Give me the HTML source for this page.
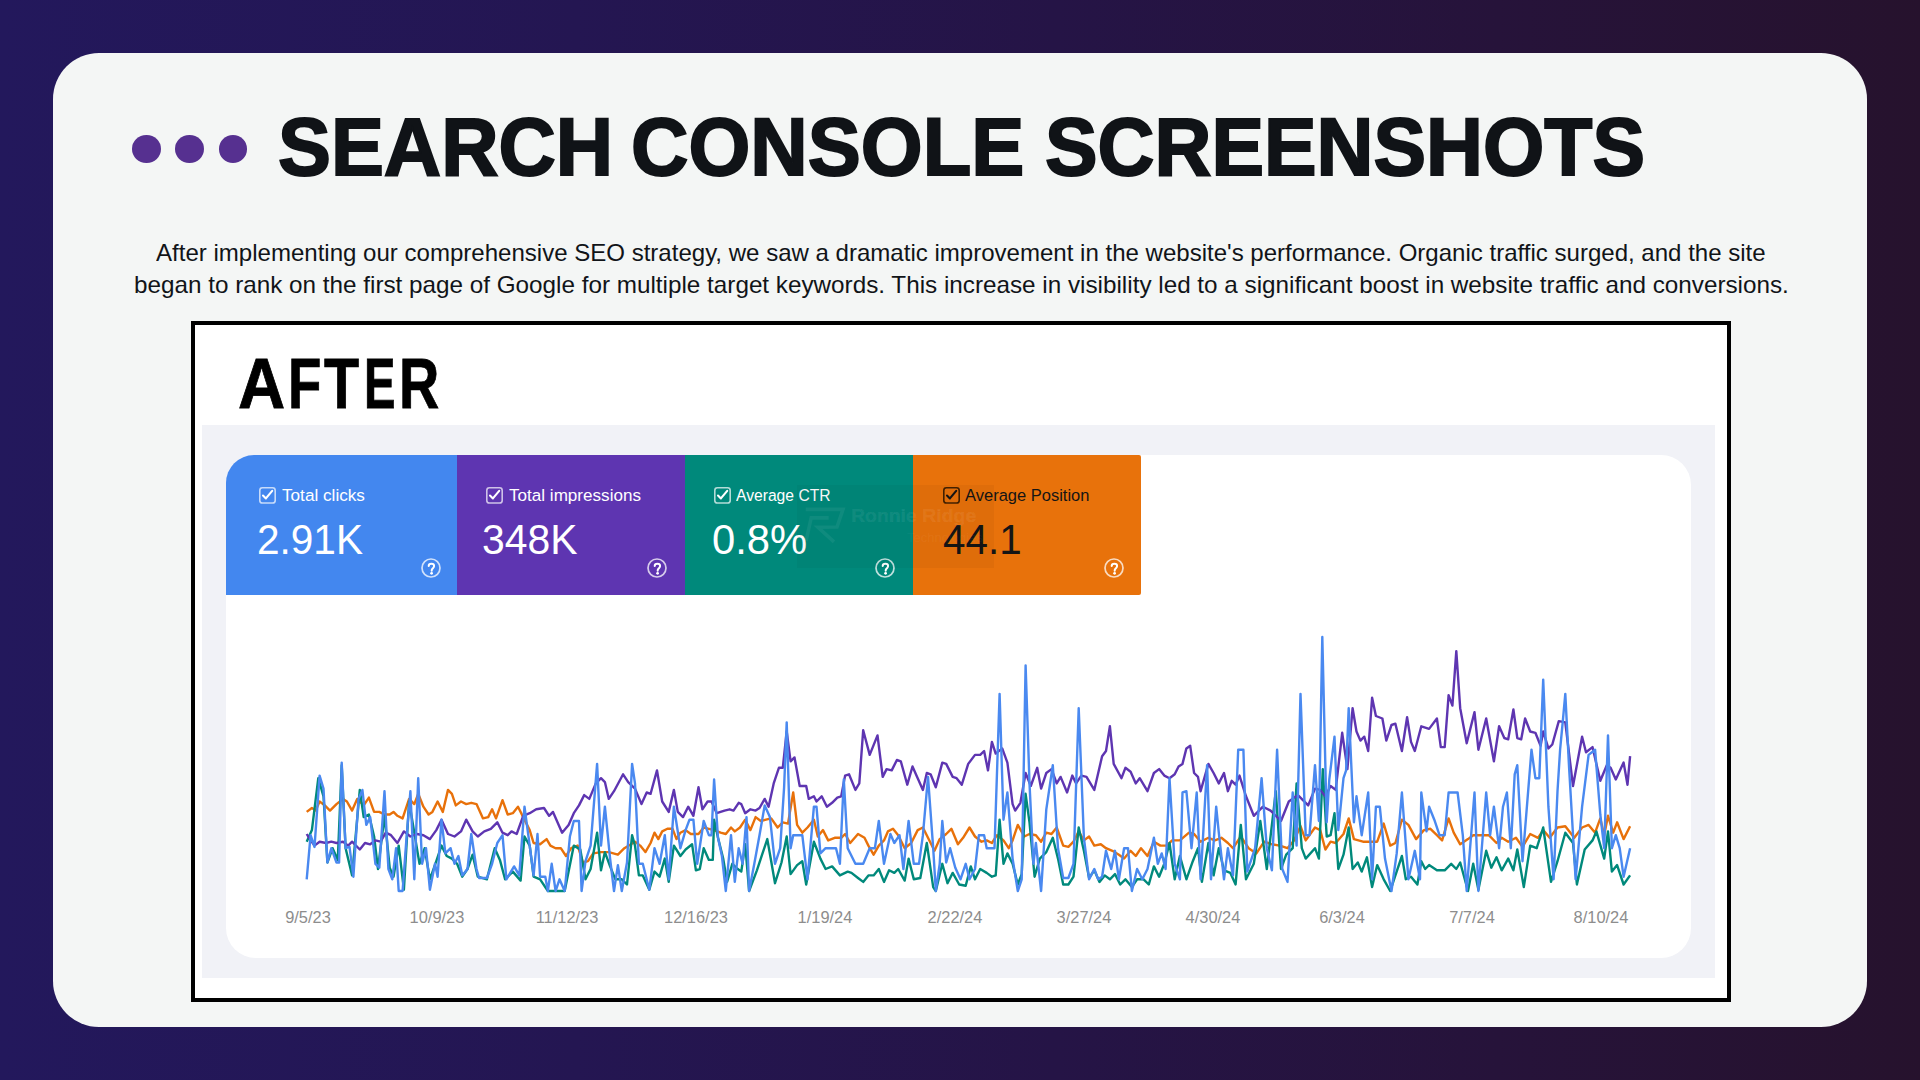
<!DOCTYPE html>
<html><head><meta charset="utf-8">
<style>
*{margin:0;padding:0;box-sizing:border-box}
html,body{width:1920px;height:1080px;overflow:hidden}
body{background:linear-gradient(90deg,#23185c 0%,#241652 30%,#251446 55%,#26133a 78%,#26122d 100%);font-family:"Liberation Sans",sans-serif;position:relative}
.a{position:absolute;white-space:nowrap;transform-origin:0 0}
.card{position:absolute;left:53px;top:53px;width:1814px;height:974px;background:#f4f6f5;border-radius:46px}
.dot{position:absolute;top:135px;width:28.6px;height:28px;border-radius:50%;background:#563090}
.tw{top:106.3px;font-size:82px;line-height:82px;font-weight:bold;color:#101317;-webkit-text-stroke:2px #101317}
.para{font-size:24px;line-height:30px;color:#111418}
.frame{position:absolute;left:191px;top:321px;width:1540px;height:681px;border:4px solid #000;background:#fff}
.after{top:348.3px;font-size:71px;line-height:71px;font-weight:bold;color:#000;-webkit-text-stroke:.8px #000}
.grey{position:absolute;left:202px;top:425px;width:1513px;height:553px;background:#f1f2f7}
.wcard{position:absolute;left:226px;top:454.5px;width:1465px;height:503.5px;background:#fff;border-radius:30px}
.m{position:absolute;top:454.5px;height:140.5px}
.lab{font-size:17.2px;line-height:20px;top:30.5px;color:#fff}
.val{font-size:43.2px;line-height:50px;top:59.7px;color:#fff}
.cbx{position:absolute;top:32.7px;width:17px;height:17px}
.q{position:absolute;top:103.5px;width:20px;height:20px}
.xl{top:908px;font-size:17px;line-height:20px;color:#8d8d8d}
</style></head><body>
<div class="card"></div>
<div class="dot" style="left:132px"></div>
<div class="dot" style="left:175px"></div>
<div class="dot" style="left:218.8px"></div>
<div class="a tw" style="left:278px;transform:scaleX(.9676)">SEARCH</div>
<div class="a tw" style="left:631.06px;transform:scaleX(.97)">CONSOLE</div>
<div class="a tw" style="left:1045.04px;transform:scaleX(.9613)">SCREENSHOTS</div>
<div class="a para" style="left:156.25px;top:237.5px;transform:scaleX(1.0016)">After implementing our comprehensive SEO strategy, we saw a dramatic improvement in the website's performance. Organic traffic surged, and the site</div>
<div class="a para" style="left:133.6px;top:270.3px;transform:scaleX(1.0107)">began to rank on the first page of Google for multiple target keywords. This increase in visibility led to a significant boost in website traffic and conversions.</div>
<div class="frame"></div>
<div class="a after" style="left:238.2px;transform:scaleX(0.92)">A</div>
<div class="a after" style="left:287.8px;transform:scaleX(0.77)">F</div>
<div class="a after" style="left:324px;transform:scaleX(0.81)">T</div>
<div class="a after" style="left:363.9px;transform:scaleX(0.665)">E</div>
<div class="a after" style="left:399.4px;transform:scaleX(0.785)">R</div>
<div class="grey"></div>
<div class="wcard"></div>
<div class="m" style="left:226px;width:231px;background:#4387ef;border-top-left-radius:28px;"><svg class="cbx" style="left:32.7px" viewBox="0 0 17 17"><rect x="0.8" y="0.8" width="15.4" height="15.2" rx="2.6" fill="none" stroke="rgba(255,255,255,.7)" stroke-width="1.6"/><polyline points="4,8.6 6.9,11.4 13.2,3.8" fill="none" stroke="#fff" stroke-width="2.1" stroke-linecap="round" stroke-linejoin="round"/></svg><div class="a lab" style="left:55.5px;color:#fff;transform:scaleX(0.998)">Total clicks</div><div class="a val" style="left:31.200000000000003px;color:#fff;transform:scaleX(0.939)">2.91K</div><svg class="q" style="left:194.8px" viewBox="0 0 20 20"><circle cx="10" cy="10" r="9" fill="none" stroke="rgba(255,255,255,.75)" stroke-width="1.7"/><path d="M7.7,8.0 C7.7,6.3 8.9,5.8 10.4,5.8 C12,5.8 13.1,6.8 13.1,8.1 C13.1,9.6 11.7,10.3 11.1,11.1 C10.8,11.5 10.7,11.9 10.7,12.7" fill="none" stroke="#fff" stroke-width="2" stroke-linecap="round"/><circle cx="10.6" cy="15.3" r="1.4" fill="#fff"/></svg></div>
<div class="m" style="left:457px;width:228px;background:#5e35b1;"><svg class="cbx" style="left:28.9px" viewBox="0 0 17 17"><rect x="0.8" y="0.8" width="15.4" height="15.2" rx="2.6" fill="none" stroke="rgba(255,255,255,.7)" stroke-width="1.6"/><polyline points="4,8.6 6.9,11.4 13.2,3.8" fill="none" stroke="#fff" stroke-width="2.1" stroke-linecap="round" stroke-linejoin="round"/></svg><div class="a lab" style="left:51.7px;color:#fff;transform:scaleX(0.994)">Total impressions</div><div class="a val" style="left:25.4px;color:#fff;transform:scaleX(0.946)">348K</div><svg class="q" style="left:189.9px" viewBox="0 0 20 20"><circle cx="10" cy="10" r="9" fill="none" stroke="rgba(255,255,255,.75)" stroke-width="1.7"/><path d="M7.7,8.0 C7.7,6.3 8.9,5.8 10.4,5.8 C12,5.8 13.1,6.8 13.1,8.1 C13.1,9.6 11.7,10.3 11.1,11.1 C10.8,11.5 10.7,11.9 10.7,12.7" fill="none" stroke="#fff" stroke-width="2" stroke-linecap="round"/><circle cx="10.6" cy="15.3" r="1.4" fill="#fff"/></svg></div>
<div class="m" style="left:685px;width:228px;background:#00897b;"><svg class="cbx" style="left:28.6px" viewBox="0 0 17 17"><rect x="0.8" y="0.8" width="15.4" height="15.2" rx="2.6" fill="none" stroke="rgba(255,255,255,.7)" stroke-width="1.6"/><polyline points="4,8.6 6.9,11.4 13.2,3.8" fill="none" stroke="#fff" stroke-width="2.1" stroke-linecap="round" stroke-linejoin="round"/></svg><div class="a lab" style="left:51.400000000000006px;color:#fff;transform:scaleX(0.911)">Average CTR</div><div class="a val" style="left:27.1px;color:#fff;transform:scaleX(0.967)">0.8%</div><svg class="q" style="left:189.8px" viewBox="0 0 20 20"><circle cx="10" cy="10" r="9" fill="none" stroke="rgba(255,255,255,.75)" stroke-width="1.7"/><path d="M7.7,8.0 C7.7,6.3 8.9,5.8 10.4,5.8 C12,5.8 13.1,6.8 13.1,8.1 C13.1,9.6 11.7,10.3 11.1,11.1 C10.8,11.5 10.7,11.9 10.7,12.7" fill="none" stroke="#fff" stroke-width="2" stroke-linecap="round"/><circle cx="10.6" cy="15.3" r="1.4" fill="#fff"/></svg></div>
<div class="m" style="left:913px;width:228px;background:#e8720b;border-radius:0 2px 2px 0;"><svg class="cbx" style="left:29.5px" viewBox="0 0 17 17"><rect x="0.8" y="0.8" width="15.4" height="15.2" rx="2.6" fill="none" stroke="rgba(40,20,0,.85)" stroke-width="1.6"/><polyline points="4,8.6 6.9,11.4 13.2,3.8" fill="none" stroke="#151515" stroke-width="2.1" stroke-linecap="round" stroke-linejoin="round"/></svg><div class="a lab" style="left:52.3px;color:#151515;transform:scaleX(0.96)">Average Position</div><div class="a val" style="left:30.2px;color:#151515;transform:scaleX(0.935)">44.1</div><svg class="q" style="left:191.2px" viewBox="0 0 20 20"><circle cx="10" cy="10" r="9" fill="none" stroke="rgba(255,255,255,.75)" stroke-width="1.7"/><path d="M7.7,8.0 C7.7,6.3 8.9,5.8 10.4,5.8 C12,5.8 13.1,6.8 13.1,8.1 C13.1,9.6 11.7,10.3 11.1,11.1 C10.8,11.5 10.7,11.9 10.7,12.7" fill="none" stroke="#fff" stroke-width="2" stroke-linecap="round"/><circle cx="10.6" cy="15.3" r="1.4" fill="#fff"/></svg></div>
<div style="position:absolute;left:797px;top:485px;width:197px;height:83px;background:rgba(0,0,0,.035)"></div>
<div class="a" style="left:850.5px;top:504.5px;font:bold 18.5px/21px 'Liberation Sans';color:rgba(255,255,255,.06);-webkit-text-stroke:.7px rgba(255,255,255,.06);transform:scaleX(1.05)">Ronnie Ridge</div>
<div class="a" style="left:907px;top:530px;font:13px/15px 'Liberation Sans';color:rgba(255,255,255,.05)">Technologies</div>
<svg style="position:absolute;left:0;top:0" width="1920" height="1080"><g fill="none" stroke="rgba(255,255,255,.06)" stroke-width="3.6" stroke-linejoin="miter"><polyline points="805.7,509.4 843,509.4 837,527 818,527.3 834,541.8"/><polyline points="828.7,517.9 811.2,517.9 806,541.2"/></g></svg>
<svg style="position:absolute;left:0;top:0" width="1920" height="1080" viewBox="0 0 1920 1080"><polyline fill="none" stroke="#e8710a" stroke-width="2.4" stroke-linejoin="round" points="306.7,811.9 311.9,808.0 315.7,810.6 319.6,801.5 324.8,805.4 330.0,810.6 336.5,804.1 343.0,798.9 346.9,801.5 352.1,810.6 357.2,798.9 363.7,805.4 368.9,797.6 374.1,811.9 379.3,811.9 384.5,814.5 389.7,814.5 393.5,811.9 397.4,815.8 402.6,818.4 409.1,798.9 414.3,804.1 418.2,793.8 423.4,806.7 428.6,814.5 432.4,811.9 437.6,801.5 442.8,811.9 448.0,789.9 451.9,793.8 455.8,805.4 461.0,801.5 466.2,804.1 471.3,802.8 476.5,804.1 483.0,818.4 488.2,817.1 492.1,809.3 496.0,818.4 502.5,800.2 507.7,814.5 512.8,813.2 518.0,806.7 523.2,817.1 529.7,830.1 533.6,843.0 540.1,844.3 546.6,839.1 550.4,845.6 555.6,848.2 560.8,848.2 566.0,856.0 571.2,848.2 577.7,845.6 582.9,862.5 588.0,861.2 593.2,853.4 601.0,852.1 608.8,852.1 617.9,854.7 624.4,848.2 635.0,841.7 640.2,845.6 645.4,852.1 650.6,843.0 654.5,832.7 658.3,839.1 662.2,831.4 667.4,828.8 672.6,828.8 676.5,839.1 680.4,832.7 685.6,830.1 690.8,834.0 698.5,834.0 703.7,827.5 708.9,828.8 714.1,830.1 720.6,832.7 725.8,834.0 731.0,827.5 734.8,831.4 740.0,827.5 745.2,819.7 750.4,830.1 755.6,817.1 760.8,821.0 766.0,819.7 771.2,818.4 777.6,827.5 782.8,822.3 788.0,823.6 793.2,792.5 797.1,824.9 802.3,832.7 807.5,827.5 813.9,819.7 817.8,836.5 823.0,830.1 828.2,840.4 834.7,837.8 841.2,837.8 845.1,834.0 850.2,843.0 858.0,834.0 864.5,837.8 868.4,845.6 873.6,854.7 878.8,845.6 884.0,840.4 887.9,831.4 893.0,828.8 898.2,835.2 904.7,848.2 911.2,843.0 917.7,830.1 922.9,827.5 928.0,837.8 934.5,850.8 939.7,839.1 946.2,834.0 951.4,828.8 957.9,844.3 963.1,837.8 969.5,827.5 975.0,836.5 981.5,841.7 986.7,840.4 991.9,843.0 997.0,835.2 1003.5,840.4 1008.7,848.2 1012.6,840.4 1017.8,824.9 1024.3,836.5 1029.5,834.0 1035.9,835.2 1041.1,841.7 1046.3,832.7 1051.5,834.0 1056.7,827.5 1063.2,845.6 1068.4,846.9 1073.5,841.7 1078.7,831.4 1083.9,840.4 1089.1,836.5 1094.3,845.6 1100.8,844.3 1106.0,848.2 1112.4,850.8 1118.9,854.7 1124.1,858.6 1130.6,850.8 1135.8,856.0 1141.0,848.2 1147.5,856.0 1153.9,841.7 1160.4,845.6 1166.9,845.6 1172.1,840.4 1179.9,840.4 1189.0,832.7 1194.1,834.0 1200.6,841.7 1208.4,837.8 1214.9,840.4 1221.4,837.8 1227.9,843.0 1233.0,848.2 1240.8,836.5 1248.6,848.2 1256.4,853.4 1264.2,841.7 1271.9,844.3 1279.7,845.6 1287.5,848.2 1294.0,840.4 1300.5,826.2 1305.7,840.4 1315.0,827.5 1320.2,830.1 1325.4,849.5 1330.6,841.7 1335.7,843.0 1343.5,834.0 1348.7,818.4 1353.9,839.1 1363.0,841.7 1369.5,841.7 1377.2,841.7 1383.7,823.6 1390.2,845.6 1395.4,843.0 1401.9,819.7 1408.4,824.9 1416.1,839.1 1423.9,830.1 1430.4,828.8 1436.9,835.2 1442.1,840.4 1448.6,818.4 1453.7,832.7 1460.2,844.3 1468.0,839.1 1473.2,835.2 1481.0,835.2 1488.8,835.2 1496.5,843.0 1501.7,837.8 1508.2,841.7 1516.0,837.8 1522.5,846.9 1530.2,834.0 1538.0,837.8 1543.2,830.1 1549.7,837.8 1557.5,827.5 1565.3,826.2 1574.3,837.8 1582.1,827.5 1588.6,824.9 1595.1,832.7 1600.3,818.4 1604.2,835.2 1608.0,815.8 1613.2,832.7 1617.1,822.3 1623.6,839.1 1630.1,826.2"/><polyline fill="none" stroke="#00897b" stroke-width="2.4" stroke-linejoin="round" points="306.7,841.7 311.9,830.1 318.3,778.2 323.5,796.3 327.4,862.5 332.6,848.2 337.8,859.9 341.7,765.2 345.6,848.2 352.1,875.4 359.8,789.9 363.7,817.1 368.9,814.5 374.1,836.5 378.0,869.0 384.5,815.8 389.7,867.7 393.5,876.7 398.7,845.6 403.9,889.7 409.1,801.5 414.3,832.7 419.5,863.8 424.7,848.2 429.9,879.3 436.3,861.2 441.5,845.6 446.7,856.0 451.9,858.6 457.1,863.8 462.3,876.7 467.5,869.0 472.6,854.7 477.8,876.7 486.9,879.3 494.7,848.2 499.9,859.9 505.1,879.3 512.8,871.6 520.6,880.6 524.5,836.5 529.7,845.6 533.6,876.7 540.1,879.3 547.9,891.0 555.6,891.0 564.7,891.0 573.8,845.6 580.3,849.5 585.5,879.3 590.6,869.0 597.1,832.7 601.0,870.3 604.9,852.1 610.1,866.4 615.3,879.3 621.8,879.3 627.0,884.5 632.1,835.2 635.0,845.6 638.9,875.4 642.8,875.4 649.3,889.7 654.5,871.6 659.6,876.7 664.8,858.6 668.7,881.9 673.9,845.6 680.4,856.0 685.6,849.5 692.1,844.3 695.9,870.3 699.8,869.0 703.7,848.2 708.9,859.9 712.8,859.9 714.1,819.7 718.0,837.8 723.2,858.6 727.1,881.9 732.3,863.8 736.1,867.7 741.3,871.6 745.2,844.3 749.1,891.0 756.9,870.3 762.1,854.7 767.3,839.1 771.2,861.2 775.0,883.2 781.5,862.5 786.7,836.5 790.6,874.1 797.1,865.1 802.3,861.2 806.2,884.5 813.9,841.7 820.4,858.6 825.6,869.0 832.1,866.4 839.9,875.4 847.7,871.6 851.5,872.9 858.0,878.0 863.2,881.9 868.4,875.4 873.6,875.4 878.8,869.0 884.0,881.9 889.1,870.3 894.3,872.9 898.2,869.0 904.7,880.6 908.6,858.6 913.8,879.3 920.3,878.0 926.8,843.0 933.2,887.1 935.8,891.0 942.3,863.8 947.5,883.2 952.7,872.9 959.2,884.5 965.7,885.8 970.8,866.4 975.0,879.3 980.2,869.0 986.7,872.9 991.9,876.7 995.7,875.4 999.6,819.7 1003.5,863.8 1007.4,853.4 1012.6,863.8 1017.8,884.5 1021.7,874.1 1025.6,793.8 1029.5,822.3 1034.6,876.7 1039.8,858.6 1046.3,852.1 1052.8,837.8 1058.0,858.6 1063.2,884.5 1068.4,884.5 1073.5,876.7 1078.7,827.5 1083.9,850.8 1089.1,878.0 1094.3,870.3 1099.5,881.9 1104.7,875.4 1109.9,879.3 1115.0,874.1 1120.2,884.5 1125.4,879.3 1131.9,887.1 1137.1,879.3 1143.6,879.3 1148.8,884.5 1153.9,866.4 1159.1,876.7 1164.3,863.8 1169.5,843.0 1174.7,879.3 1179.9,856.0 1186.4,879.3 1192.8,861.2 1198.0,848.2 1201.9,881.9 1208.4,843.0 1213.6,875.4 1218.8,848.2 1224.0,870.3 1230.4,872.9 1235.6,884.5 1240.8,824.9 1246.0,879.3 1253.8,863.8 1260.3,821.0 1266.8,869.0 1275.8,791.2 1281.0,869.0 1286.2,854.7 1292.7,848.2 1296.6,783.4 1301.8,848.2 1305.7,858.6 1315.0,848.2 1318.9,858.6 1322.8,769.1 1326.7,836.5 1330.6,835.2 1334.5,813.2 1338.3,869.0 1343.5,854.7 1348.7,827.5 1352.6,869.0 1357.8,862.5 1361.7,871.6 1366.9,857.3 1372.1,887.1 1377.2,865.1 1383.7,879.3 1390.2,891.0 1395.4,875.4 1401.9,856.0 1405.8,879.3 1411.0,876.7 1417.4,884.5 1421.3,861.2 1425.2,869.0 1429.1,865.1 1436.9,870.3 1444.7,870.3 1451.2,863.8 1456.3,869.0 1460.2,862.5 1468.0,891.0 1473.2,863.8 1478.4,889.7 1486.2,850.8 1491.3,867.7 1496.5,857.3 1501.7,870.3 1508.2,858.6 1513.4,870.3 1517.3,849.5 1523.8,887.1 1530.2,845.6 1536.7,848.2 1543.2,827.5 1551.0,881.9 1557.5,861.2 1565.3,832.7 1573.0,843.0 1576.9,884.5 1584.7,849.5 1592.5,840.4 1596.4,831.4 1604.2,858.6 1608.0,831.4 1611.9,871.6 1617.1,865.1 1623.6,884.5 1630.1,875.4"/><polyline fill="none" stroke="#5e35b1" stroke-width="2.4" stroke-linejoin="round" points="306.7,834.0 310.6,840.4 314.5,845.6 319.6,841.7 326.1,843.0 331.3,841.7 336.5,843.0 343.0,841.7 348.2,845.6 352.1,841.7 359.8,849.5 365.0,843.0 370.2,844.3 375.4,840.4 380.6,841.7 385.8,832.7 391.0,835.2 397.4,843.0 403.9,831.4 410.4,836.5 416.9,834.0 423.4,835.2 429.9,839.1 436.3,830.1 441.5,819.7 448.0,834.0 454.5,836.5 461.0,831.4 466.2,819.7 472.6,831.4 477.8,836.5 484.3,831.4 490.8,828.8 497.3,822.3 502.5,832.7 507.7,835.2 511.5,831.4 516.7,834.0 523.2,815.8 529.7,813.2 536.2,809.3 544.0,808.0 549.1,815.8 553.0,811.9 562.1,832.7 568.6,824.9 573.8,813.2 579.0,805.4 584.2,795.1 589.3,798.9 595.8,783.4 601.0,778.2 604.9,782.1 608.8,798.9 614.0,791.2 623.1,774.3 628.2,782.1 635.0,788.6 641.5,804.1 646.7,792.5 650.6,793.8 657.0,770.4 662.2,801.5 668.7,811.9 673.9,789.9 677.8,811.9 683.0,817.1 688.2,806.7 693.4,815.8 698.5,787.3 702.4,809.3 707.6,801.5 711.5,801.5 716.7,813.2 724.5,810.6 729.7,809.3 733.5,810.6 738.7,802.8 741.3,804.1 745.2,813.2 750.4,809.3 755.6,810.6 759.5,808.0 764.7,798.9 768.6,806.7 773.7,783.4 778.9,767.8 782.8,767.8 786.7,731.5 790.6,761.3 794.5,757.4 799.7,786.0 806.2,786.0 808.8,798.9 813.9,796.3 816.5,801.5 821.7,796.3 826.9,806.7 832.1,802.8 837.3,797.6 841.2,796.3 845.1,775.6 849.0,774.3 855.4,789.9 859.3,783.4 863.2,730.2 869.7,754.9 877.5,735.4 882.7,776.9 886.6,769.1 891.7,770.4 896.9,760.0 900.8,761.3 907.3,784.7 912.5,766.5 917.7,778.2 922.9,789.9 926.8,773.0 930.6,774.3 935.8,787.3 942.3,762.6 946.2,763.9 952.7,776.9 956.6,778.2 961.8,784.7 968.2,763.9 975.0,754.9 980.2,754.9 984.1,751.0 988.0,770.4 991.9,741.9 995.7,753.6 1002.2,748.4 1007.4,762.6 1012.6,804.1 1015.2,810.6 1020.4,802.8 1025.6,773.0 1030.8,786.0 1037.2,767.8 1041.1,788.6 1046.3,773.0 1051.5,769.1 1056.7,783.4 1060.6,776.9 1067.1,792.5 1072.3,775.6 1076.1,783.4 1081.3,775.6 1086.5,776.9 1094.3,789.9 1102.1,756.2 1106.0,751.0 1109.9,726.3 1113.7,763.9 1121.5,778.2 1125.4,767.8 1130.6,771.7 1135.8,783.4 1139.7,778.2 1147.5,791.2 1153.9,773.0 1159.1,769.1 1164.3,775.6 1169.5,778.2 1174.7,774.3 1178.6,766.5 1182.5,763.9 1186.4,748.4 1190.2,745.8 1194.1,773.0 1198.0,776.9 1200.6,791.2 1208.4,763.9 1213.6,773.0 1218.8,783.4 1224.0,773.0 1227.9,791.2 1231.7,780.8 1235.6,784.7 1239.5,775.6 1246.0,796.3 1253.8,815.8 1262.9,806.7 1270.6,810.6 1281.0,821.0 1288.8,801.5 1297.9,795.1 1308.2,805.4 1315.0,788.6 1320.2,789.9 1325.4,796.3 1330.6,786.0 1335.7,789.9 1342.2,732.8 1347.4,769.1 1352.6,708.2 1356.5,731.5 1360.4,740.6 1364.3,736.7 1368.2,751.0 1372.1,697.8 1375.9,716.0 1382.4,718.5 1386.3,740.6 1391.5,725.0 1395.4,723.7 1401.9,751.0 1407.1,717.3 1411.0,741.9 1414.8,751.0 1421.3,726.3 1429.1,728.9 1436.9,718.5 1440.8,747.1 1444.7,747.1 1448.6,695.2 1452.4,705.6 1456.3,651.1 1460.2,708.2 1466.7,743.2 1474.5,712.1 1478.4,749.7 1486.2,718.5 1493.9,761.3 1499.1,726.3 1504.3,738.0 1508.2,739.3 1513.4,709.5 1517.3,738.0 1521.2,739.3 1525.1,718.5 1530.2,731.5 1535.4,732.8 1540.6,745.8 1543.2,731.5 1548.4,748.4 1552.3,744.5 1558.8,721.1 1565.3,722.4 1573.0,786.0 1582.1,736.7 1586.0,752.3 1592.5,747.1 1600.3,780.8 1606.8,765.2 1610.6,767.8 1615.8,779.5 1623.6,762.6 1627.5,784.7 1630.1,756.2"/><polyline fill="none" stroke="#4a89f0" stroke-width="2.4" stroke-linejoin="round" points="306.7,879.3 310.6,835.2 314.5,846.9 319.6,775.6 323.5,788.6 327.4,862.5 331.3,848.2 336.5,862.5 339.1,862.5 341.7,762.6 345.6,848.2 349.5,846.9 353.4,876.7 358.5,798.9 362.4,789.9 366.3,824.9 370.2,817.1 375.4,863.8 379.3,867.7 384.5,791.2 388.4,869.0 392.3,879.3 396.1,848.2 398.7,891.0 402.6,891.0 406.5,837.8 410.4,791.2 414.3,879.3 418.2,778.2 422.1,863.8 426.0,848.2 429.9,889.7 435.0,863.8 437.6,876.7 441.5,819.7 445.4,853.4 450.6,848.2 454.5,863.8 458.4,856.0 462.3,875.4 467.5,869.0 471.3,834.0 476.5,869.0 479.1,878.0 486.9,878.0 492.1,863.8 497.3,843.0 502.5,835.2 506.4,879.3 514.1,866.4 519.3,875.4 524.5,806.7 529.7,845.6 533.6,875.4 537.5,834.0 540.1,876.7 545.3,876.7 547.9,891.0 551.7,863.8 555.6,891.0 559.5,879.3 564.7,891.0 569.9,836.5 573.8,821.0 579.0,821.0 581.6,891.0 585.5,861.2 590.6,845.6 597.1,763.9 601.0,845.6 604.9,806.7 610.1,858.6 614.0,891.0 617.9,865.1 621.8,891.0 627.0,862.5 632.1,763.9 635.0,783.4 638.9,863.8 642.8,863.8 649.3,889.7 654.5,848.2 659.6,863.8 664.8,835.2 668.7,879.3 673.9,806.7 680.4,848.2 685.6,830.1 689.5,819.7 693.4,819.7 697.2,863.8 703.7,821.0 708.9,835.2 711.5,835.2 714.1,779.5 718.0,837.8 721.9,856.0 725.8,891.0 731.0,835.2 734.8,881.9 738.7,848.2 742.6,863.8 746.5,817.1 749.1,891.0 754.3,863.8 759.5,835.2 764.7,805.4 769.9,817.1 775.0,863.8 780.2,848.2 784.1,787.3 786.7,722.4 790.6,848.2 793.2,835.2 802.3,835.2 807.5,879.3 813.9,806.7 816.5,806.7 820.4,853.4 825.6,848.2 836.0,848.2 839.9,863.8 843.8,779.5 847.7,848.2 855.4,863.8 863.2,863.8 869.7,848.2 874.9,848.2 878.8,821.0 884.0,863.8 890.4,834.0 894.3,843.0 899.5,835.2 903.4,869.0 908.6,821.0 913.8,863.8 919.0,863.8 922.9,835.2 928.0,776.9 933.2,848.2 935.8,891.0 939.7,863.8 942.3,821.0 946.2,862.5 950.1,848.2 955.3,867.7 960.5,879.3 965.7,863.8 969.5,879.3 975.0,869.0 978.9,835.2 984.1,835.2 986.7,848.2 994.5,848.2 999.6,693.9 1003.5,819.7 1007.4,792.5 1012.6,858.6 1017.8,891.0 1021.7,879.3 1025.6,665.4 1029.5,783.4 1033.4,863.8 1035.9,843.0 1041.1,891.0 1046.3,809.3 1052.8,765.2 1058.0,848.2 1063.2,878.0 1068.4,878.0 1073.5,863.8 1078.7,708.2 1083.9,837.8 1089.1,879.3 1094.3,869.0 1098.2,879.3 1102.1,876.7 1106.0,850.8 1111.2,869.0 1115.0,850.8 1118.9,879.3 1124.1,848.2 1128.0,848.2 1131.9,891.0 1137.1,869.0 1142.3,879.3 1147.5,869.0 1153.9,837.8 1157.8,863.8 1161.7,853.4 1165.6,869.0 1169.5,778.2 1174.7,863.8 1179.9,879.3 1182.5,792.5 1186.4,791.2 1191.5,848.2 1196.7,792.5 1200.6,879.3 1207.1,765.2 1211.0,879.3 1216.2,806.7 1218.8,832.7 1224.0,879.3 1227.9,848.2 1233.0,875.4 1238.2,749.7 1243.4,749.7 1247.3,871.6 1255.1,848.2 1261.6,778.2 1266.8,848.2 1271.9,870.3 1277.1,749.7 1282.3,869.0 1287.5,881.9 1292.7,792.5 1296.6,845.6 1300.5,693.9 1305.7,835.2 1309.5,835.2 1315.0,765.2 1318.9,821.0 1322.3,636.9 1326.7,822.3 1329.3,779.5 1334.5,736.7 1338.3,830.1 1343.5,778.2 1346.1,770.4 1348.7,708.2 1353.9,822.3 1356.5,796.3 1361.7,835.2 1368.2,792.5 1372.1,879.3 1375.9,806.7 1379.8,806.7 1385.0,858.6 1391.5,891.0 1396.7,853.4 1401.9,792.5 1408.4,879.3 1414.8,850.8 1420.0,879.3 1421.3,792.5 1426.5,831.4 1429.1,806.7 1434.3,819.7 1439.5,835.2 1444.7,835.2 1448.6,792.5 1457.6,792.5 1462.8,835.2 1466.7,891.0 1474.5,792.5 1478.4,891.0 1486.2,792.5 1490.1,835.2 1493.9,806.7 1499.1,848.2 1503.0,806.7 1506.9,792.5 1510.8,848.2 1514.7,774.3 1517.3,765.2 1522.5,861.2 1531.5,749.7 1535.4,778.2 1539.3,778.2 1543.2,679.6 1548.4,806.7 1553.6,879.3 1557.5,791.2 1560.1,749.7 1562.7,722.4 1565.3,693.9 1569.1,767.8 1575.6,879.3 1582.1,806.7 1588.6,754.9 1595.1,749.7 1600.3,814.5 1604.2,848.2 1608.0,735.4 1611.9,848.2 1615.8,835.2 1619.7,848.2 1623.6,876.7 1630.1,848.2"/></svg>
<div class="a xl" style="left:248.0px;width:120px;text-align:center;transform-origin:50% 0;transform:scaleX(.965)">9/5/23</div>
<div class="a xl" style="left:377.3px;width:120px;text-align:center;transform-origin:50% 0;transform:scaleX(.965)">10/9/23</div>
<div class="a xl" style="left:506.6px;width:120px;text-align:center;transform-origin:50% 0;transform:scaleX(.965)">11/12/23</div>
<div class="a xl" style="left:635.9px;width:120px;text-align:center;transform-origin:50% 0;transform:scaleX(.965)">12/16/23</div>
<div class="a xl" style="left:765.2px;width:120px;text-align:center;transform-origin:50% 0;transform:scaleX(.965)">1/19/24</div>
<div class="a xl" style="left:894.5px;width:120px;text-align:center;transform-origin:50% 0;transform:scaleX(.965)">2/22/24</div>
<div class="a xl" style="left:1023.8px;width:120px;text-align:center;transform-origin:50% 0;transform:scaleX(.965)">3/27/24</div>
<div class="a xl" style="left:1153.1px;width:120px;text-align:center;transform-origin:50% 0;transform:scaleX(.965)">4/30/24</div>
<div class="a xl" style="left:1282.4px;width:120px;text-align:center;transform-origin:50% 0;transform:scaleX(.965)">6/3/24</div>
<div class="a xl" style="left:1411.7px;width:120px;text-align:center;transform-origin:50% 0;transform:scaleX(.965)">7/7/24</div>
<div class="a xl" style="left:1541.0px;width:120px;text-align:center;transform-origin:50% 0;transform:scaleX(.965)">8/10/24</div>
</body></html>
